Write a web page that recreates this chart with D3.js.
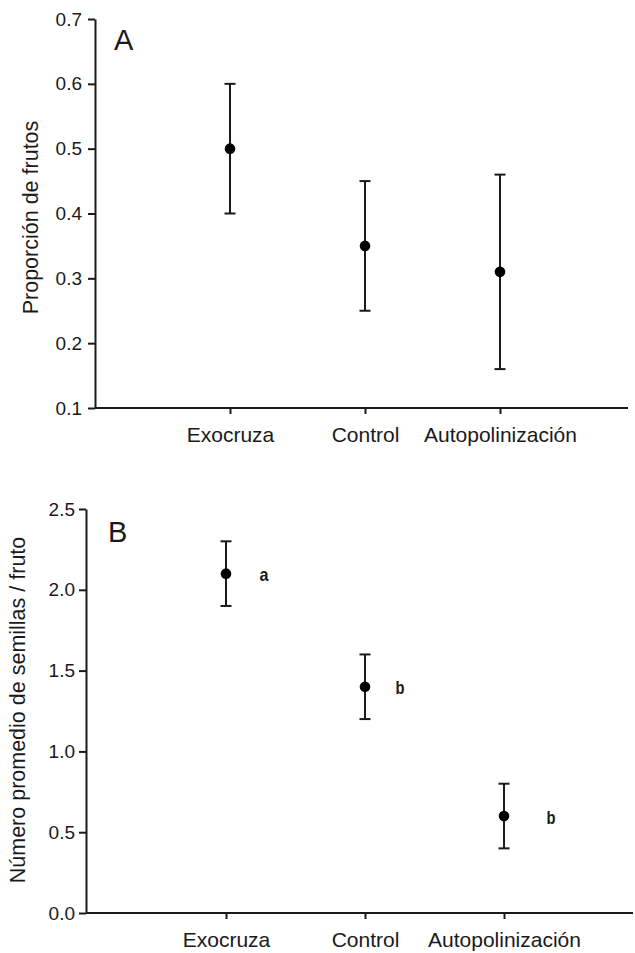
<!DOCTYPE html>
<html>
<head>
<meta charset="utf-8">
<script src="https://cdn.jsdelivr.net/npm/d3@7"></script>
<style>
  body { margin: 0; background: #fff; }
  svg text { font-family: "Liberation Sans", Arial, sans-serif; fill: #1a1a1a; }
</style>
</head>
<body>
<div id="chart"></div>
<script>
//******************************************************************************
//**  Data
//******************************************************************************
var categories = ["Exocruza", "Control", "Autopolinización"];

// panel A: proporción de frutos
var fruitMean = [0.50, 0.35, 0.31];
var fruitLow  = [0.40, 0.25, 0.16];
var fruitHigh = [0.60, 0.45, 0.46];
var fruitTicks = [0.1, 0.2, 0.3, 0.4, 0.5, 0.6, 0.7];

// panel B: semillas por fruto
var seedMean = [2.1, 1.4, 0.6];
var seedLow  = [1.9, 1.2, 0.4];
var seedHigh = [2.3, 1.6, 0.8];
var seedLetters = ["a", "b", "b"];
var seedTicks = [0.0, 0.5, 1.0, 1.5, 2.0, 2.5];


//******************************************************************************
//**  Layout
//******************************************************************************
var width = 635, height = 953;
var ink = "#1a1a1a";
var letterDx = [38, 35, 47];

var svg = d3.select("#chart").append("svg")
    .attr("width", width)
    .attr("height", height);


//**************************************************************************
//** drawPanel
//**************************************************************************
var drawPanel = function(cfg){
    var g = svg.append("g");

    var y = d3.scaleLinear().domain(cfg.yDomain).range([cfg.bottom, cfg.top]);
    var x = d3.scalePoint().domain(categories).range(cfg.xRange);

  // y axis
    var yAxis = g.append("g")
        .attr("transform", `translate(${cfg.left},0)`)
        .call(d3.axisLeft(y)
            .tickValues(cfg.ticks)
            .tickFormat(d3.format(".1f"))
            .tickSize(7)
            .tickSizeOuter(0)
            .tickPadding(cfg.tickPad));
    yAxis.selectAll("path, line").attr("stroke", ink).attr("stroke-width", 2);
    yAxis.selectAll("text").style("font-size", "19px").attr("fill", ink);

  // x axis
    var xAxis = g.append("g")
        .attr("transform", `translate(0,${cfg.bottom})`)
        .call(d3.axisBottom(x).tickSize(6).tickPadding(13));
    xAxis.select(".domain").remove();
    xAxis.selectAll("line").attr("stroke", ink).attr("stroke-width", 2);
    xAxis.selectAll("text").style("font-size", "21px").attr("fill", ink);

    g.append("line")
        .attr("x1", cfg.left).attr("x2", cfg.right)
        .attr("y1", cfg.bottom).attr("y2", cfg.bottom)
        .attr("stroke", ink).attr("stroke-width", 2);

  // y title
    g.append("text")
        .attr("transform", `translate(${cfg.titleX},${(cfg.top + cfg.bottom) / 2 + cfg.titleShift}) rotate(-90)`)
        .attr("text-anchor", "middle")
        .style("font-size", "21.5px")
        .text(cfg.title);

  // panel letter
    g.append("text")
        .attr("x", cfg.letterX).attr("y", cfg.letterY)
        .style("font-size", "29px")
        .text(cfg.letter);

  // error bars + points
    var cap = 5.5;
    categories.forEach(function(c, i){
        var cx = x(c);
        g.append("line")
            .attr("x1", cx).attr("x2", cx)
            .attr("y1", y(cfg.low[i])).attr("y2", y(cfg.high[i]))
            .attr("stroke", ink).attr("stroke-width", 2);
        [cfg.low[i], cfg.high[i]].forEach(function(v){
            g.append("line")
                .attr("x1", cx - cap).attr("x2", cx + cap)
                .attr("y1", y(v)).attr("y2", y(v))
                .attr("stroke", ink).attr("stroke-width", 2);
        });
        g.append("circle")
            .attr("cx", cx).attr("cy", y(cfg.mean[i]))
            .attr("r", 5.3)
            .attr("fill", "#000");

        if (cfg.labels){
            g.append("text")
                .attr("x", cx + letterDx[i] - 4.5)
                .attr("y", y(cfg.mean[i]) + 7.5)
                .attr("textLength", 9)
                .attr("lengthAdjust", "spacingAndGlyphs")
                .style("font-size", "19px")
                .style("font-weight", "bold")
                .text(cfg.labels[i]);
        }
    });
};


drawPanel({
    yDomain: [0.1, 0.7], ticks: fruitTicks,
    top: 19, bottom: 408, left: 95, right: 628,
    xRange: [230, 500], tickPad: 6,
    mean: fruitMean, low: fruitLow, high: fruitHigh,
    title: "Proporción de frutos", titleX: 38, titleShift: 4,
    letter: "A", letterX: 114, letterY: 50
});

drawPanel({
    yDomain: [0, 2.5], ticks: seedTicks,
    top: 509, bottom: 913, left: 86, right: 633,
    xRange: [226, 504], tickPad: 4,
    mean: seedMean, low: seedLow, high: seedHigh, labels: seedLetters,
    title: "Número promedio de semillas / fruto", titleX: 25, titleShift: -1,
    letter: "B", letterX: 108, letterY: 542
});
</script>
</body>
</html>
